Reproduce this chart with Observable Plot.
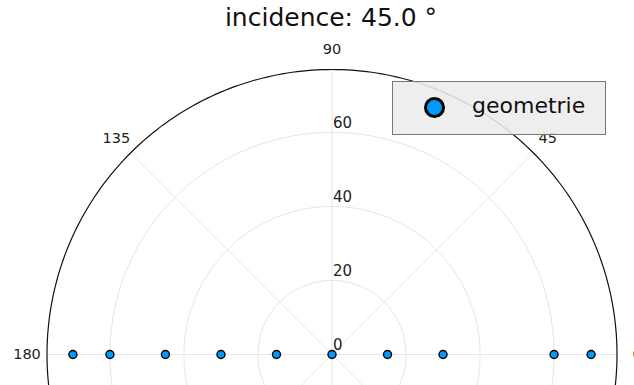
<!DOCTYPE html>
<html>
<head>
<meta charset="utf-8">
<script src="https://cdn.jsdelivr.net/npm/d3@7"></script>
<script src="https://cdn.jsdelivr.net/npm/@observablehq/plot@0.6"></script>
<style>
  html, body { margin: 0; padding: 0; background: white; overflow: hidden; }
  #wrap { position: relative; width: 634px; height: 385px; overflow: hidden; font-family: "DejaVu Sans", sans-serif; }
  #title { position: absolute; left: 0; top: 3px; width: 662px; text-align: center; font-size: 25px; line-height: 30px; color: #111; }
  #chart { position: absolute; left: 0; top: 40px; }
  #legend { position: absolute; left: 392px; top: 81px; width: 212px; height: 52px; background: rgba(236,236,236,0.88); border: 1px solid #777; }
  #legend .mk { position: absolute; left: 31px; top: 15px; width: 15px; height: 15px; border-radius: 50%; background: #009AFA; border: 3px solid #000; }
  #legend .lb { position: absolute; left: 79px; top: 11px; font-size: 22px; line-height: 26px; color: #111; }
</style>
</head>
<body>
<div id="wrap">
  <div id="title">incidence: 45.0 °</div>
  <div id="chart"></div>
  <div id="legend"><div class="mk"></div><div class="lb">geometrie</div></div>
</div>
<script>
// data
const seriesName = "geometrie";
const pointAngles = [180, 180, 180, 180, 180, 180, 0, 0, 0, 0];
const pointRadii  = [70, 60, 45, 30, 15, 0, 15, 30, 60, 70];
const radialTicks = [0, 20, 40, 60];
const angleTicks  = [0, 45, 90, 135, 180, 225, 270, 315];
const angleLabelTicks = [0, 45, 90, 135, 180];
const rMax = 77;

const rad = d => d * Math.PI / 180;
const points = pointAngles.map((a, i) => ({a, r: pointRadii[i], x: pointRadii[i] * Math.cos(rad(a)), y: pointRadii[i] * Math.sin(rad(a))}));

const ringPts = [];
for (const r of radialTicks.filter(r => r > 0)) {
  for (let t = 0; t <= 360; t += 2) ringPts.push({r, x: r * Math.cos(rad(t)), y: r * Math.sin(rad(t))});
}
const outerPts = [];
for (let t = 0; t <= 360; t += 1) outerPts.push({x: rMax * Math.cos(rad(t)), y: rMax * Math.sin(rad(t))});

const spokes = angleTicks.map(a => ({a, x: rMax * Math.cos(rad(a)), y: rMax * Math.sin(rad(a))}));
const labelR = rMax + 5.4;
const angleLabels = angleLabelTicks.map(a => ({a, x: labelR * Math.cos(rad(a)), y: labelR * Math.sin(rad(a))}));

const W = 634, H = 345, cx = 331.5, cy = 314, rpx = 285;

const chart = Plot.plot({
  width: W, height: H,
  margin: 0,
  x: {domain: [-rMax, rMax], range: [cx - rpx, cx + rpx], axis: null},
  y: {domain: [-rMax, rMax], range: [cy + rpx, cy - rpx], axis: null},
  style: {fontFamily: "DejaVu Sans, sans-serif", background: "white", overflow: "hidden"},
  marks: [
    Plot.line(ringPts, {x: "x", y: "y", z: "r", stroke: "#e6e6e6", strokeWidth: 1}),
    Plot.link(spokes, {x1: 0, y1: 0, x2: "x", y2: "y", stroke: "#e6e6e6", strokeWidth: 1}),
    Plot.line(outerPts, {x: "x", y: "y", stroke: "#111", strokeWidth: 1.2}),
    Plot.text(angleLabels, {x: "x", y: "y", text: d => String(d.a), fontSize: 14.5, fill: "#222"}),
    Plot.text(radialTicks, {x: 0, y: d => d, text: d => String(d), textAnchor: "start", dx: 1, dy: -9, fontSize: 15, fill: "#222"}),
    Plot.dot(points, {x: "x", y: "y", r: 4, fill: "#009AFA", stroke: "#000", strokeWidth: 1.4})
  ]
});
document.getElementById("chart").appendChild(chart);
</script>
</body>
</html>
